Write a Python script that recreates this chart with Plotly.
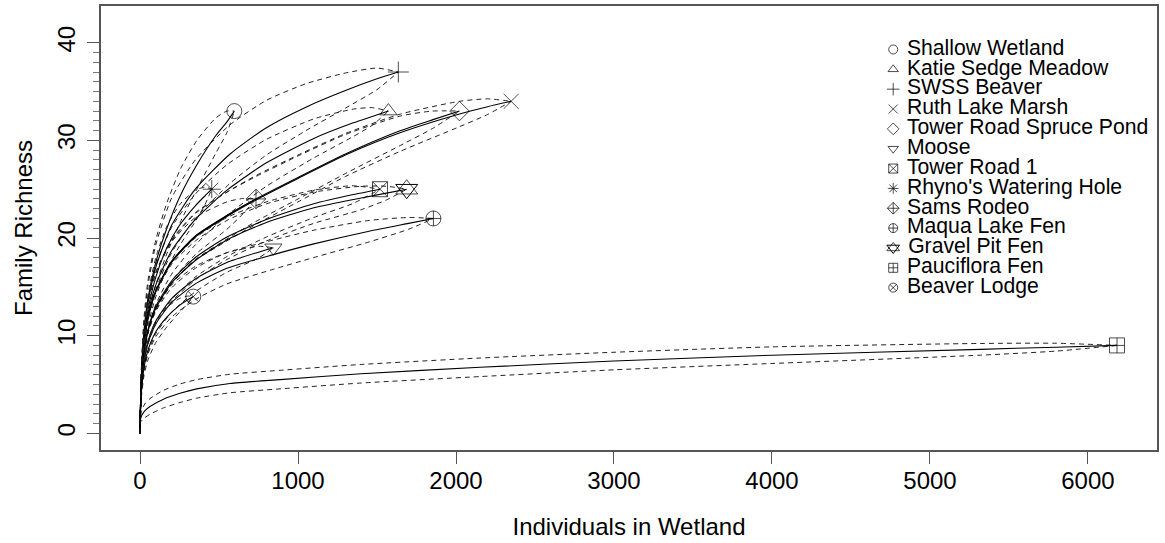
import plotly.graph_objects as go

# ---- observed totals (end points of each rarefaction curve) ----
sites = ["Shallow Wetland", "Katie Sedge Meadow", "SWSS Beaver", "Ruth Lake Marsh",
         "Tower Road Spruce Pond", "Moose", "Tower Road 1", "Rhyno's Watering Hole",
         "Sams Rodeo", "Maqua Lake Fen", "Gravel Pit Fen", "Pauciflora Fen", "Beaver Lodge"]
individuals = [597, 1572, 1635, 2349, 2022, 844, 1519, 454, 734, 1857, 1688, 6184, 337]
richness = [33, 33, 37, 34, 33, 19, 25, 25, 24, 22, 25, 9, 14]
symbols = ["circle-open", "triangle-up-open", "cross-thin-open", "x-thin-open",
           "diamond-open", "triangle-down-open", "square-x-open", "asterisk-open",
           "diamond-cross-open", "circle-cross-open", "triangle-up-open",
           "square-cross-open", "circle-x-open"]
# second glyph drawn on top (R pch 11 = two overlapping triangles)
overlay_symbols = [None, None, None, None, None, None, None, None, None, None,
                   "triangle-down-open", None, None]

# ---- rarefaction curves: sample size, expected richness, CI half width ----
shallow_n = [0, 3, 10, 25, 50, 100, 170, 260, 360, 480, 550, 597]
shallow_s = [0, 2.8, 6.5, 10.5, 13.8, 17.5, 21, 24.5, 27.5, 30.5, 31.9, 33]
shallow_ci = [0, 0.3, 0.8, 1.3, 1.8, 2.3, 2.6, 2.7, 2.5, 1.8, 1.1, 0]

katie_n = [0, 3, 10, 25, 50, 100, 200, 350, 550, 800, 1100, 1350, 1470, 1572]
katie_s = [0, 2.7, 6, 9.3, 12.2, 15.2, 18.7, 21.9, 24.9, 27.7, 30.2, 31.8, 32.45, 33]
katie_ci = [0, 0.3, 0.7, 1.2, 1.6, 2.0, 2.4, 2.6, 2.6, 2.4, 2.0, 1.4, 0.9, 0]

swss_n = [0, 3, 10, 25, 50, 100, 200, 350, 570, 800, 1050, 1300, 1500, 1635]
swss_s = [0, 2.8, 6.3, 10, 13.3, 17, 21.3, 25, 28.6, 31.3, 33.4, 35.1, 36.3, 37]
swss_ci = [0, 0.3, 0.8, 1.3, 1.8, 2.3, 2.8, 3.0, 3.0, 2.8, 2.4, 1.8, 1.1, 0]

ruth_n = [0, 3, 10, 25, 50, 100, 200, 350, 550, 734, 1000, 1300, 1650, 2022, 2200, 2349]
ruth_s = [0, 2.7, 5.9, 9.0, 11.7, 14.5, 17.5, 20.1, 22.2, 23.9, 26.1, 28.5, 30.8, 32.7, 33.45, 34]
ruth_ci = [0, 0.3, 0.7, 1.1, 1.5, 1.9, 2.2, 2.4, 2.5, 2.5, 2.4, 2.2, 1.9, 1.3, 0.8, 0]

trsp_n = [0, 3, 10, 25, 50, 100, 200, 350, 550, 734, 1000, 1300, 1650, 1850, 2022]
trsp_s = [0, 2.7, 5.9, 9.1, 11.8, 14.6, 17.6, 20.2, 22.3, 24, 26.2, 28.6, 31, 32.1, 33]
trsp_ci = [0, 0.3, 0.7, 1.1, 1.5, 1.9, 2.2, 2.4, 2.4, 2.3, 2.2, 2.0, 1.5, 0.9, 0]

moose_n = [0, 3, 10, 25, 50, 100, 200, 350, 550, 750, 844]
moose_s = [0, 2.4, 4.9, 7.4, 9.4, 11.5, 13.8, 15.8, 17.5, 18.55, 19]
moose_ci = [0, 0.3, 0.6, 0.9, 1.1, 1.3, 1.4, 1.3, 1.0, 0.6, 0]

tr1_n = [0, 3, 10, 25, 50, 100, 200, 350, 550, 800, 1100, 1350, 1519]
tr1_s = [0, 2.6, 5.5, 8.3, 10.6, 13, 15.6, 18, 20.1, 21.9, 23.5, 24.45, 25]
tr1_ci = [0, 0.3, 0.7, 1.0, 1.3, 1.6, 1.9, 2.0, 2.0, 1.8, 1.4, 0.9, 0]

rhyno_n = [0, 3, 10, 25, 50, 100, 170, 250, 350, 410, 454]
rhyno_s = [0, 2.7, 6.1, 9.6, 12.6, 16, 19, 21.3, 23.3, 24.3, 25]
rhyno_ci = [0, 0.3, 0.8, 1.2, 1.6, 2.0, 2.2, 2.1, 1.6, 0.9, 0]

sams_n = [0, 3, 10, 25, 50, 100, 200, 350, 550, 650, 734]
sams_s = [0, 2.7, 5.9, 9.1, 11.8, 14.6, 17.6, 20.2, 22.3, 23.25, 24]
sams_ci = [0, 0.3, 0.7, 1.1, 1.5, 1.8, 2.0, 1.9, 1.4, 0.8, 0]

maqua_n = [0, 3, 10, 25, 50, 100, 200, 350, 550, 844, 1100, 1450, 1700, 1857]
maqua_s = [0, 2.4, 4.9, 7.3, 9.2, 11.2, 13.4, 15.3, 16.9, 18.3, 19.4, 20.7, 21.5, 22]
maqua_ci = [0, 0.3, 0.6, 0.9, 1.1, 1.3, 1.5, 1.6, 1.6, 1.5, 1.4, 1.1, 0.6, 0]

gravel_n = [0, 3, 10, 25, 50, 100, 200, 350, 550, 800, 1100, 1400, 1560, 1688]
gravel_s = [0, 2.6, 5.4, 8.1, 10.4, 12.8, 15.4, 17.7, 19.8, 21.6, 23.1, 24.1, 24.6, 25]
gravel_ci = [0, 0.3, 0.7, 1.0, 1.3, 1.6, 1.9, 2.0, 2.0, 1.9, 1.6, 1.2, 0.7, 0]

pauci_n = [0, 3, 10, 30, 63, 148, 253, 359, 570, 886, 1400, 2153, 3000, 4000, 5318, 5800, 6184]
pauci_s = [0, 1.4, 1.8, 2.3, 2.75, 3.5, 4.1, 4.55, 5.1, 5.5, 6.1, 6.76, 7.4, 8.0, 8.6, 8.82, 9]
pauci_ci = [0, 0.3, 0.5, 0.7, 0.8, 0.9, 0.95, 0.95, 0.95, 0.95, 0.95, 0.95, 0.9, 0.85, 0.6, 0.4, 0]

beaver_n = [0, 3, 10, 25, 50, 100, 170, 250, 300, 337]
beaver_s = [0, 2.3, 4.5, 6.7, 8.5, 10.4, 11.9, 13.1, 13.65, 14]
beaver_ci = [0, 0.3, 0.6, 0.8, 1.0, 1.1, 1.0, 0.7, 0.4, 0]

curves = [
    (shallow_n, shallow_s, shallow_ci), (katie_n, katie_s, katie_ci),
    (swss_n, swss_s, swss_ci), (ruth_n, ruth_s, ruth_ci),
    (trsp_n, trsp_s, trsp_ci), (moose_n, moose_s, moose_ci),
    (tr1_n, tr1_s, tr1_ci), (rhyno_n, rhyno_s, rhyno_ci),
    (sams_n, sams_s, sams_ci), (maqua_n, maqua_s, maqua_ci),
    (gravel_n, gravel_s, gravel_ci), (pauci_n, pauci_s, pauci_ci),
    (beaver_n, beaver_s, beaver_ci),
]

FONT = "Liberation Sans, Arial, Helvetica, sans-serif"
MARK = 15          # end-point marker size
MARK_STAR = 19     # the two triangles that form the star glyph
LEG_MARK = 9
LEG_STAR = 11

fig = go.Figure()

for n, s, ci in curves:
    upper = [a + b for a, b in zip(s, ci)]
    lower = [a - b for a, b in zip(s, ci)]
    for band in (lower, upper):
        fig.add_trace(go.Scatter(x=n, y=band, mode="lines",
                                 line=dict(color="#222222", width=1, dash="5px,4px",
                                           shape="spline", smoothing=0.6),
                                 showlegend=False, hoverinfo="skip"))
    fig.add_trace(go.Scatter(x=n, y=s, mode="lines",
                             line=dict(color="black", width=1.1, shape="spline", smoothing=0.6),
                             showlegend=False, hoverinfo="skip"))

# end-point markers
main_sizes = [MARK_STAR if ov else MARK for ov in overlay_symbols]
leg_sizes = [LEG_STAR if ov else LEG_MARK for ov in overlay_symbols]
fig.add_trace(go.Scatter(x=individuals, y=richness, mode="markers",
                         marker=dict(symbol=symbols, size=main_sizes, color="black",
                                     line=dict(color="black", width=1)),
                         showlegend=False, hoverinfo="skip"))
ov_idx = [i for i, sym in enumerate(overlay_symbols) if sym]
fig.add_trace(go.Scatter(x=[individuals[i] for i in ov_idx], y=[richness[i] for i in ov_idx],
                         mode="markers",
                         marker=dict(symbol=[overlay_symbols[i] for i in ov_idx], size=MARK_STAR,
                                     color="black", line=dict(color="black", width=1)),
                         showlegend=False, hoverinfo="skip"))

# legend drawn on an overlay axis (one row per site)
rows = list(range(len(sites)))
fig.add_trace(go.Scatter(x=[0] * len(sites), y=rows, mode="markers+text",
                         text=["\u2004" + name for name in sites], textposition="middle right",
                         textfont=dict(family=FONT, size=21.2, color="black"),
                         marker=dict(symbol=symbols, size=leg_sizes, color="black",
                                     line=dict(color="black", width=1)),
                         xaxis="x2", yaxis="y2", showlegend=False, hoverinfo="skip"))
fig.add_trace(go.Scatter(x=[0] * len(ov_idx), y=[rows[i] for i in ov_idx], mode="markers",
                         marker=dict(symbol=[overlay_symbols[i] for i in ov_idx], size=LEG_STAR,
                                     color="black", line=dict(color="black", width=1)),
                         xaxis="x2", yaxis="y2", showlegend=False, hoverinfo="skip"))

axis_common = dict(showgrid=False, zeroline=False, showline=True, mirror=True,
                   linecolor="#555555", linewidth=1.5, ticks="outside",
                   ticklen=12, tickwidth=1.2, tickcolor="#555555", automargin=False,
                   tickfont=dict(family=FONT, size=24, color="black"))

fig.update_layout(
    width=1165, height=543,
    margin=dict(l=101, r=8, t=6, b=93, autoexpand=False),
    paper_bgcolor="white", plot_bgcolor="white",
    xaxis=dict(range=[-247, 6437], tickmode="array",
               tickvals=list(range(0, 7000, 1000)), ticklabelstandoff=-4,
               title=dict(text="Individuals in Wetland", standoff=26,
                          font=dict(family=FONT, size=24, color="black")),
               **axis_common),
    yaxis=dict(range=[-1.71, 43.76], tickmode="linear", tick0=0, dtick=10,
               tickangle=-90, ticklabelstandoff=3,
               minor=dict(tickmode="array", tickvals=list(range(0, 41)),
                          ticks="outside", ticklen=6, tickcolor="#777777",
                          tickwidth=1, showgrid=False),
               title=dict(text="Family Richness", standoff=13,
                          font=dict(family=FONT, size=24, color="black")),
               **axis_common),
    xaxis2=dict(overlaying="x", range=[-0.7502, 0.2498], visible=False, fixedrange=True),
    yaxis2=dict(overlaying="y", range=[20.18, -2.19], visible=False, fixedrange=True),
    showlegend=False,
)

fig.write_html("out.html", config={"displayModeBar": False},
               post_script="document.body.style.margin='0px';")
